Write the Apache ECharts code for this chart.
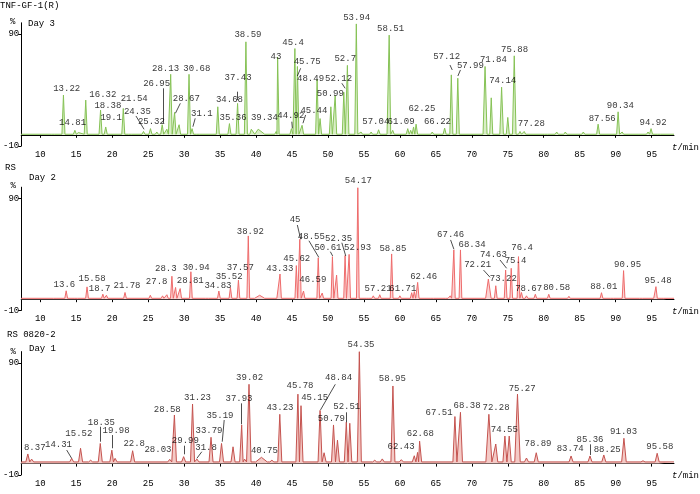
<!DOCTYPE html>
<html><head><meta charset="utf-8">
<script src="https://cdn.jsdelivr.net/npm/echarts@6/dist/echarts.min.js"></script>
<style>html,body{margin:0;padding:0;background:#fff}#c{width:700px;height:494px}</style>
</head><body><div id="c"></div>
<script>
// ---------- data ----------
const xTicks = [10,15,20,25,30,35,40,45,50,55,60,65,70,75,80,85,90,95];
const yTicks = [-10, 90];
const panelTitles = ['TNF-GF-1(R)', 'RS', 'RS 0820-2'];
const dayNames = ['Day 3', 'Day 2', 'Day 1'];
const baselines = [0.5, 0.8, 1.5];

// peaks: [retention time (min), height (%), optional half-width (min)]
const peaksDay3 = [
  [11.8,2],[13.22,35.5],[14.81,4],[15.3,2],[16.32,31],[18.38,22],[19.1,7],[21.54,23.5],[22.5,1.5],
  [24.35,3],[25.32,5.5],[26.2,2.5],[26.95,9],[27.6,5],[28.13,54],[28.67,20],[29.3,9],[30.68,54],
  [31.1,5.5],[31.9,2],[34.68,25],[36.3,10],[37.43,28],[38.59,83],[39.34,5],[40.3,5,0.9],[42.8,3],
  [43.0,69.5],[44.92,5.5],[45.4,77],[45.75,61],[46.4,8.5],[48.49,49.5],[48.9,14.5],[50.4,25],
  [51.0,35],[52.2,38],[52.7,62],[53.94,99],[54.6,2.5],[56.0,2.5],[57.04,4.5],[58.0,2],[58.51,89],
  [59.0,4],[59.8,2],[61.09,5.5],[61.5,4],[61.9,7],[62.25,9.5],[64.5,2.5],[66.22,6],[67.15,53.5],
  [68.05,50.5],[71.84,61,0.28],[72.7,33],[74.14,42.5,0.25],[75.0,15.5],[75.9,70.5,0.25],[76.7,3],
  [77.28,3],[78.3,2],[80.3,2],[81.8,2.5],[83.0,2.5],[85.5,2.5],[87.56,9.5],[90.34,20.5],[90.9,2.5],
  [92.9,1.5],[94.5,2.5],[94.92,5.5],[96.0,1.5]
];
const peaksDay2 = [
  [12.0,2],[13.6,7.5],[15.0,2],[16.5,11],[18.7,4.5],[19.2,3.5],[21.78,6],[25.3,3.5],[27.0,3],
  [27.6,4],[28.3,20.5],[28.81,10.5],[29.45,9.5],[30.94,24.5],[33.2,1.5],[34.83,7.3],[36.44,10.5],
  [37.55,17],[38.92,56.5],[40.5,3.5,0.7],[42.7,2.5],[43.33,22.5],[44.9,2.5],[45.6,30],[46.08,53.5],
  [46.6,7.3],[48.65,37],[49.2,5.5],[50.62,38],[51.2,21.5],[52.38,39],[52.94,40],[54.15,99.5],
  [55.5,2],[56.3,3],[57.2,4],[58.85,40.4],[60.0,3],[61.64,5.8],[62.0,6.8],[62.47,15],[64.5,2],
  [66.5,2],[67.0,3],[67.5,44],[68.42,44],[72.3,18,0.38],[73.33,12],[74.7,26],[75.48,27.6],
  [76.49,38],[76.9,6],[77.6,3],[78.83,4.4],[80.7,4.4],[83.5,2.6],[88.03,5.8],[89.5,2],[91.1,25.5],
  [93.5,2],[95.1,2.5],[95.6,11.2],[96.5,2]
];
const peaksDay1 = [
  [8.27,8.6],[8.8,4],[14.36,4.7],[15.6,13.7],[17.0,3],[18.34,18],[19.95,12],[20.4,4.7],[22.84,11.5],
  [28.0,3.8],[28.65,43.4],[29.93,6.2],[31.17,53.2],[31.78,4],[33.74,23.5],[35.2,18],[36.8,15],
  [38.0,34.5],[38.4,4],[39.02,70.8],[40.75,5.6,0.8],[42.2,3],[43.3,44],[45.82,62],[46.25,51.7],
  [48.9,47.5],[49.46,9.7],[50.77,34.5],[51.32,21],[52.55,37],[53.03,36],[54.36,99.9],[56.5,3],
  [57.55,4.2],[59.03,69.3],[60.2,3.5],[62.0,7],[62.46,10],[62.74,20],[67.65,42],[68.42,45.8],
  [72.37,44,0.42],[73.33,17.5],[74.6,24.6],[75.2,24.6],[76.35,62,0.38],[77.6,5],[78.96,9.7],
  [83.8,6.8],[86.43,6.8],[88.35,7.7],[91.15,22.6,0.32],[93.8,2.5],[95.77,9.2]
];

// peak annotations: [time, value, text]
const labelsDay3 = [
  [13.67,40.9,'13.22'],[14.49,10.8,'14.81'],[18.7,35.5,'16.32'],[19.4,26.3,'18.38'],[19.86,15.6,'19.1'],
  [23.06,32.2,'21.54'],[23.5,20.6,'24.35'],[25.45,11.7,'25.32'],[26.18,46,'26.95'],[27.42,58.75,'28.13'],
  [30.3,32.6,'28.67'],[31.77,58.75,'30.68'],[32.46,19.2,'31.1'],[36.3,31,'34.68'],[36.8,15.6,'35.36'],
  [37.5,51,'37.43'],[38.87,89.7,'38.59'],[41.16,15.6,'39.34'],[42.77,69.7,'43'],[44.83,17,'44.92'],
  [45.15,82.2,'45.4'],[47.11,65.3,'45.75'],[47.58,49.8,'48.49'],[48.04,21.5,'45.44'],[50.33,36.4,'50.99'],
  [51.47,50.4,'52.12'],[52.4,68.3,'52.7'],[53.99,104.9,'53.94'],[58.71,94.5,'58.51'],[56.65,11.4,'57.04'],
  [60.17,11.4,'61.09'],[63.06,23.6,'62.25'],[65.22,11.4,'66.22'],[66.5,69.7,'57.12'],[69.8,61.7,'57.99'],
  [73.0,67.4,'71.84'],[74.29,48,'74.14'],[75.94,76.3,'75.88'],[78.27,9.6,'77.28'],[88.13,14.7,'87.56'],
  [90.65,26,'90.34'],[95.2,10.8,'94.92']
];
const labelsDay2 = [
  [13.35,13.3,'13.6'],[17.2,18.7,'15.58'],[18.25,9.4,'18.7'],[22.06,12.4,'21.78'],[26.18,15.4,'27.8'],
  [27.46,27,'28.3'],[30.85,16.5,'28.81'],[31.68,28.1,'30.94'],[34.7,12.4,'34.83'],[36.26,20.1,'35.52'],
  [37.82,28.5,'37.57'],[39.2,60.3,'38.92'],[43.3,27,'43.33'],[45.42,71.3,'45'],[45.66,35.9,'45.62'],
  [47.9,17.1,'46.59'],[47.69,55.8,'48.55'],[50.0,46.3,'50.61'],[51.47,54.4,'52.35'],[54.12,46,'52.93'],
  [54.22,105.5,'54.17'],[59.03,44.8,'58.85'],[56.97,9.1,'57.21'],[60.4,9.7,'61.71'],[63.3,20.1,'62.46'],
  [67.05,57.3,'67.46'],[70.03,49,'68.34'],[70.81,31.2,'72.21'],[74.38,18.7,'73.22'],[73.0,40.1,'74.63'],
  [76.07,34.1,'75.4'],[77.0,46,'76.4'],[77.9,9.7,'78.67'],[81.8,10.3,'80.58'],[88.35,11.2,'88.01'],
  [91.65,30.5,'90.95'],[95.9,16.9,'95.48']
];
const labelsDay1 = [
  [9.23,14.2,'8.37'],[12.53,16.6,'14.31'],[15.36,27,'15.52'],[18.48,36.5,'18.35'],[20.54,29.1,'19.98'],
  [23.06,18.1,'22.8'],[26.36,12.1,'28.03'],[27.65,47.9,'28.58'],[30.17,20.2,'29.99'],[31.86,58.8,'31.23'],
  [33.05,14.2,'31.8'],[33.46,29.7,'33.79'],[34.98,42.8,'35.19'],[37.63,58.3,'37.93'],[39.1,76.7,'39.02'],
  [41.16,11.25,'40.75'],[43.32,50.3,'43.23'],[46.11,69.3,'45.78'],[48.15,58.6,'45.15'],[51.47,76.7,'48.84'],
  [50.47,39.8,'50.79'],[52.61,50.8,'52.51'],[54.59,105.9,'54.35'],[58.94,76.2,'58.95'],[60.17,15.1,'62.43'],
  [62.84,26.4,'62.68'],[65.45,45.8,'67.51'],[69.34,51.4,'68.38'],[73.37,49.9,'72.28'],[74.52,30.6,'74.55'],
  [77.0,67.2,'75.27'],[79.2,18.1,'78.89'],[83.68,13,'83.74'],[86.43,21.7,'85.36'],[88.82,12.1,'88.25'],
  [91.1,28.5,'91.03'],[96.14,15.1,'95.58']
];

// leader lines: [t1, v1, t2, v2]
const leadersDay3 = [
  [23.3,16.8,24.43,4.9],[27.1,41.5,27.1,10.3],[29.47,28.1,28.79,19.2],[31.54,14.7,31.22,7.2],
  [37.41,38.5,37.41,31],[46.2,59.4,45.74,52.5],[46.89,17.7,46.52,10.3],[44.97,11.7,45.05,5.8],
  [51.93,46,52.39,41.5],[66.96,62.3,67.28,57.9],[68.42,57.9,68.06,52.5]
];
const leadersDay2 = [
  [45.74,66.25,46.21,53.5],[47.35,52.2,48.72,37.4],[50.33,42.4,50.65,38.6],[51.93,50.4,52.47,38.6],
  [67.05,52.9,67.51,44.6],[71.63,26,72.54,19.55],[73.92,35,74.84,27.6]
];
const leadersDay1 = [
  [13.67,12.1,14.36,4.7],[18.38,32.9,18.38,19.55],[19.95,25.5,19.95,13.7],[30.07,16,30.07,8.3],
  [32.46,10.6,31.77,4.7],[35.57,38.9,35.3,19.55],[38.0,53.8,38.0,35.1],[51.02,70.8,48.96,47.9],
  [52.61,45.8,52.61,36.9],[86.43,17.2,86.43,7.7]
];

// ---------- rendering ----------
const X_MIN = 7.347, X_MAX = 98.11;
const FONT = 'Liberation Mono';
const lineColors = ['#86c256', '#ee6b6b', '#c4534f'];
const areaColors = ['#d9eec6', '#fbd4d4', '#f4cac6'];
const defaultHW = [0.21, 0.19, 0.28];
const peakSets = [peaksDay3, peaksDay2, peaksDay1];
const labelSets = [labelsDay3, labelsDay2, labelsDay1];
const leaderSets = [leadersDay3, leadersDay2, leadersDay1];

function trace(peaks, base, hwDefault) {
  const ps = peaks.slice().sort((a, b) => a[0] - b[0]);
  const pts = [[X_MIN, base]];
  let prevRight = X_MIN;
  ps.forEach(p => {
    const hw = p[2] || hwDefault;
    let left = p[0] - hw;
    if (left < prevRight) {
      const last = pts[pts.length - 1];
      const mid = (pts[pts.length - 2][0] + p[0]) / 2;
      last[0] = mid;
    } else {
      pts.push([left, base]);
    }
    pts.push([p[0], p[1]]);
    const right = p[0] + hw;
    pts.push([right, base]);
    prevRight = right;
  });
  pts.push([X_MAX, base]);
  return pts;
}

const gridTops = [22.8, 187.2, 351.6];
const gridH = 123.2;
const grids = [], xAxes = [], yAxes = [], series = [], titles = [];

for (let i = 0; i < 3; i++) {
  grids.push({ left: 19, right: 20.7, top: gridTops[i], height: gridH, containLabel: false });
  xAxes.push({
    type: 'value', gridIndex: i, min: X_MIN, max: X_MAX,
    axisLine: { show: true, lineStyle: { color: '#000', width: 1 } },
    axisTick: { show: true, length: 3, inside: false, customValues: xTicks, lineStyle: { color: '#000' } },
    axisLabel: { show: true, customValues: xTicks, margin: 4, color: '#000', fontFamily: FONT, fontSize: 9 },
    splitLine: { show: false },
    name: '{i|t}/min', nameLocation: 'end', nameGap: -2,
    nameTextStyle: {
      color: '#000', fontFamily: FONT, fontSize: 9, verticalAlign: 'top', align: 'left', padding: [8, 0, 0, 0],
      rich: { i: { fontStyle: 'italic', fontFamily: FONT, fontSize: 9, color: '#000' } }
    }
  });
  yAxes.push({
    type: 'value', gridIndex: i, min: -10, max: 100,
    axisLine: { show: true, lineStyle: { color: '#000', width: 1 } },
    axisTick: { show: true, length: 3, customValues: yTicks, lineStyle: { color: '#000' } },
    axisLabel: { show: true, customValues: yTicks, margin: 2, color: '#000', fontFamily: FONT, fontSize: 9 },
    splitLine: { show: false }
  });
  series.push({
    type: 'line', xAxisIndex: i, yAxisIndex: i,
    data: trace(peakSets[i], baselines[i], defaultHW[i]),
    symbol: 'none', showSymbol: false, silent: true, z: 2,
    lineStyle: { color: lineColors[i], width: 1 },
    areaStyle: { color: areaColors[i], opacity: 1 }
  });
  series.push({
    type: 'scatter', xAxisIndex: i, yAxisIndex: i, clip: false, silent: true, z: 5,
    data: labelSets[i], symbolSize: 1, itemStyle: { color: 'rgba(0,0,0,0)' },
    label: {
      show: true, position: 'inside', formatter: p => p.data[2],
      color: '#000', fontFamily: FONT, fontSize: 9
    },
    markLine: {
      silent: true, symbol: ['none', 'none'], animation: false,
      label: { show: false },
      lineStyle: { color: '#000', width: 0.7, type: 'solid' },
      emphasis: { disabled: true },
      data: leaderSets[i].map(l => [{ coord: [l[0], l[1]] }, { coord: [l[2], l[3]] }])
    }
  });
}

const tStyle = { color: '#000', fontFamily: FONT, fontSize: 9, fontWeight: 'normal' };
const titlePos = [
  { main: [0, 1], day: [28, 19], pct: [10, 17.5] },
  { main: [5, 163.5], day: [29, 173.5], pct: [10.5, 181] },
  { main: [7, 330], day: [29, 344], pct: [10.5, 347.5] }
];
for (let i = 0; i < 3; i++) {
  const tp = titlePos[i];
  titles.push({ text: panelTitles[i], left: tp.main[0], top: tp.main[1], padding: 0, textStyle: tStyle });
  titles.push({ text: dayNames[i], left: tp.day[0], top: tp.day[1], padding: 0, textStyle: tStyle });
  titles.push({ text: '%', left: tp.pct[0], top: tp.pct[1], padding: 0, textStyle: tStyle });
}

const chart = echarts.init(document.getElementById('c'), null, { renderer: 'canvas' });
chart.setOption({
  animation: false,
  backgroundColor: '#fff',
  title: titles,
  grid: grids,
  xAxis: xAxes,
  yAxis: yAxes,
  series: series
});
</script>
</body></html>
